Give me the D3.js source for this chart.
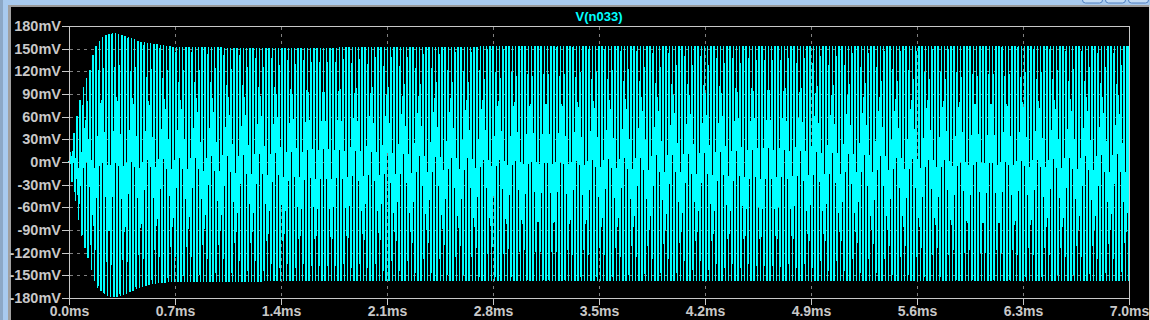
<!DOCTYPE html>
<html>
<head>
<meta charset="utf-8">
<script src="https://cdn.jsdelivr.net/npm/d3@7/dist/d3.min.js"></script>
<style>
  html, body { margin: 0; padding: 0; background: #000; overflow: hidden; }
  svg { display: block; }
</style>
</head>
<body>
<svg id="chart" width="1150" height="320"></svg>
<script>
// ---- data ----
const traceName = "V(n033)";
// envelope of the oscillation (ms, mV)
const envTimeMs = [0, 0.02, 0.05, 0.075, 0.10, 0.14, 0.165, 0.185, 0.23, 0.28, 0.32, 0.36, 0.41, 0.46, 0.52, 0.60, 0.70, 1.4, 2.1, 2.8, 3.5, 4.2, 4.9, 5.6, 6.3, 7.0];
const envUpperMv = [0, 25, 58, 83, 103, 123, 148, 156, 167, 171, 170, 168, 164, 160, 158, 155, 152, 151, 152, 153, 154, 154, 154, 154, 154, 154];
const envLowerMv = [0, -25, -60, -90, -110, -136, -156, -165, -175, -179, -179, -176, -172, -167, -163, -160, -159, -158, -158, -158, -158, -158, -158, -158, -158, -158];
const cyclesPerMs = 47.3;   // oscillation cycles counted per millisecond
const xTickValues = [0, 0.7, 1.4, 2.1, 2.8, 3.5, 4.2, 4.9, 5.6, 6.3, 7.0];
const xTickLabels = ["0.0ms", "0.7ms", "1.4ms", "2.1ms", "2.8ms", "3.5ms", "4.2ms", "4.9ms", "5.6ms", "6.3ms", "7.0ms"];
const yTickValues = [180, 150, 120, 90, 60, 30, 0, -30, -60, -90, -120, -150, -180];
const yTickLabels = ["180mV", "150mV", "120mV", "90mV", "60mV", "30mV", "0mV", "-30mV", "-60mV", "-90mV", "-120mV", "-150mV", "-180mV"];

// ---- layout ----
const W = 1150, H = 320;
const L = 69, R = 1129, T = 26, B = 298;
const axisColor = "#c8c8c8", gridColor = "#808080", traceColor = "#00ffff";
const font = "'Liberation Sans', Arial, sans-serif";

const svg = d3.select("#chart");

// window chrome
svg.append("rect").attr("x", 0).attr("y", 0).attr("width", W).attr("height", H).attr("fill", "#000");
svg.append("rect").attr("x", 0).attr("y", 0).attr("width", W).attr("height", 5).attr("fill", "#a8caee");
svg.append("rect").attr("x", 0).attr("y", 5).attr("width", W).attr("height", 2).attr("fill", "#9a9a9a");
svg.append("rect").attr("x", 0).attr("y", 0).attr("width", 3).attr("height", H).attr("fill", "#8ca8c6");
svg.append("rect").attr("x", 3).attr("y", 0).attr("width", 5).attr("height", H).attr("fill", "#a8caee");
svg.append("rect").attr("x", 8).attr("y", 5).attr("width", 3).attr("height", H).attr("fill", "#a0a0a0");
svg.append("rect").attr("x", 1149).attr("y", 5).attr("width", 1).attr("height", H).attr("fill", "#d0d0d0");
[1082, 1105, 1128].forEach(bx => {
  svg.append("rect").attr("x", bx + 0.5).attr("y", -10).attr("width", 20).attr("height", 13).attr("rx", 3)
    .attr("fill", "#c4dcf4").attr("stroke", "#4f7fc0").attr("stroke-width", 1);
});

const x = d3.scaleLinear().domain([0, 7]).range([L, R]);
const y = d3.scaleLinear().domain([-180, 180]).range([B, T]);

// grid
const grid = svg.append("g").attr("shape-rendering", "crispEdges")
  .attr("stroke", gridColor).attr("stroke-width", 1).attr("stroke-dasharray", "3,4");
grid.selectAll("line.h").data(yTickValues.filter(v => v !== 180 && v !== -180)).join("line")
  .attr("x1", L + 1).attr("x2", R).attr("y1", d => y(d) + 0.5).attr("y2", d => y(d) + 0.5);
grid.selectAll("line.v").data(xTickValues.filter(v => v !== 0 && v !== 7)).join("line")
  .attr("y1", T + 1).attr("y2", B).attr("x1", d => x(d) + 0.5).attr("x2", d => x(d) + 0.5);

// trace: alternating peaks following the read envelope
const upperAt = d3.scaleLinear().domain(envTimeMs).range(envUpperMv).clamp(true);
const lowerAt = d3.scaleLinear().domain(envTimeMs).range(envLowerMv).clamp(true);
const halfPeriod = 1 / (2 * cyclesPerMs);
const nHalf = Math.floor(7 / halfPeriod);
const pts = [];
for (let k = 0; k <= nHalf; k++) {
  const t = k * halfPeriod;
  pts.push([t, k % 2 === 1 ? upperAt(t) : lowerAt(t)]);
}
pts.push([7, upperAt(7)]);
svg.append("path").datum(pts)
  .attr("d", d3.line().x(d => x(d[0])).y(d => y(d[1])))
  .attr("fill", "none").attr("stroke", traceColor).attr("stroke-width", 1.4)
  .attr("shape-rendering", "crispEdges");

// axes
const yAxis = d3.axisLeft(y).tickValues(yTickValues).tickSize(7).tickPadding(1)
  .tickFormat((d, i) => yTickLabels[i]);
const gy = svg.append("g").attr("transform", `translate(${L},0)`).call(yAxis);
const xAxis = d3.axisBottom(x).tickValues(xTickValues).tickSize(7).tickPadding(1.5)
  .tickFormat((d, i) => xTickLabels[i]);
const gx = svg.append("g").attr("transform", `translate(0,${B})`).call(xAxis);
[gx, gy].forEach(g => {
  g.select(".domain").remove();
  g.selectAll(".tick line").attr("stroke", axisColor).attr("shape-rendering", "crispEdges");
  g.selectAll(".tick text").attr("fill", axisColor).attr("font-family", font)
    .attr("font-weight", "bold");
});
gy.selectAll(".tick text").attr("font-size", 14.5);
gx.selectAll(".tick text").attr("font-size", 14);

// frame
svg.append("rect").attr("x", L + 0.5).attr("y", T + 0.5).attr("width", R - L).attr("height", B - T)
  .attr("fill", "none").attr("stroke", axisColor).attr("stroke-width", 1).attr("shape-rendering", "crispEdges");

// title
svg.append("text").attr("x", (L + R) / 2).attr("y", 21).attr("text-anchor", "middle")
  .attr("font-family", font).attr("font-weight", "bold").attr("font-size", 13)
  .attr("fill", traceColor).text(traceName);
</script>
</body>
</html>
